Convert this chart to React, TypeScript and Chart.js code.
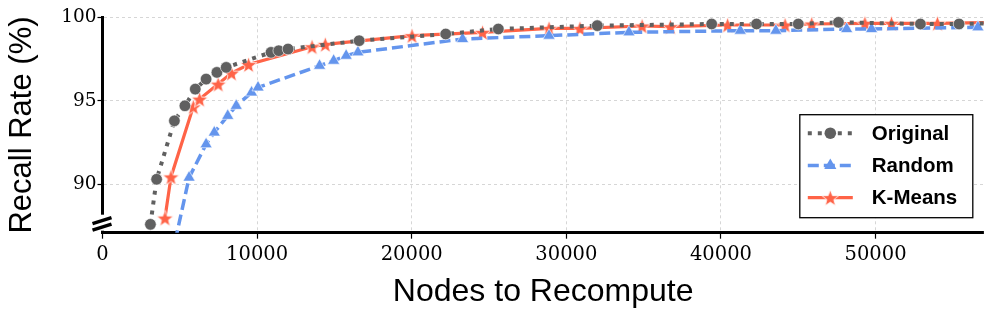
import React, { useEffect, useRef } from "react";
import { Chart, registerables } from "chart.js";

Chart.register(...registerables);

// ---- data ----
const seriesNames = ["Original", "Random", "K-Means"];

const originalX = [3100, 3500, 4650, 5330, 6000, 6700, 7400, 8000, 10900, 11400, 12000, 16600, 22200, 25600, 32000, 39400, 42300, 45000, 47600, 52900, 55400, 58000];
const originalY = [87.6, 90.3, 93.8, 94.7, 95.7, 96.3, 96.7, 97.0, 97.9, 98.0, 98.1, 98.6, 99.0, 99.3, 99.5, 99.6, 99.6, 99.6, 99.7, 99.6, 99.6, 99.65];

const randomX = [4700, 5600, 6700, 7230, 8100, 8650, 9640, 10060, 14040, 14950, 15760, 16520, 23290, 28880, 34050, 41250, 43550, 48130, 49740, 56620];
const randomY = [86.6, 90.4, 92.4, 93.1, 94.1, 94.7, 95.5, 95.8, 97.1, 97.4, 97.7, 97.9, 98.7, 98.9, 99.1, 99.2, 99.2, 99.3, 99.3, 99.4];

const kmeansX = [4040, 4430, 5870, 6280, 7480, 8340, 9450, 13550, 14410, 20020, 24580, 28880, 30880, 34900, 36730, 40430, 44150, 45870, 49310, 51030, 54000, 58000];
const kmeansY = [87.98, 90.44, 94.64, 95.1, 96.0, 96.66, 97.17, 98.24, 98.38, 98.9, 99.1, 99.34, 99.34, 99.48, 99.44, 99.54, 99.54, 99.6, 99.64, 99.64, 99.64, 99.7];

const xTicks = [0, 10000, 20000, 30000, 40000, 50000];
const yTicks = [90, 95, 100];
const xMin = 0;
const xMax = 57000;
const yMin = 87.1;
const yMax = 100;

const xTitle = "Nodes to Recompute";
const yTitle = "Recall Rate (%)";

// ---- styles ----
const GRAY = "#606060";
const BLUE = "#6495ED";
const RED = "#FF6347";

function makeStar(size: number, fill: string, stroke: string) {
  const c = document.createElement("canvas");
  c.width = size;
  c.height = size;
  const ctx = c.getContext("2d")!;
  const cx = size / 2;
  const cy = size / 2 + size * 0.05;
  const R = size / 2 - 0.8;
  const r = R * 0.42;
  ctx.beginPath();
  for (let i = 0; i < 10; i++) {
    const a = -Math.PI / 2 + (i * Math.PI) / 5;
    const rad = i % 2 === 0 ? R : r;
    ctx.lineTo(cx + rad * Math.cos(a), cy + rad * Math.sin(a));
  }
  ctx.closePath();
  ctx.fillStyle = fill;
  ctx.fill();
  ctx.strokeStyle = stroke;
  ctx.lineWidth = 0.8;
  ctx.stroke();
  return c;
}

function drawMarker(ctx: CanvasRenderingContext2D, ds: any, x: number, y: number) {
  const style = ds.pointStyle;
  if (style && typeof style !== "string") {
    ctx.drawImage(style, x - style.width / 2, y - style.height / 2);
    return;
  }
  const r = ds.pointRadius;
  ctx.beginPath();
  if (style === "triangle") {
    for (let i = 0; i < 3; i++) {
      const a = -Math.PI / 2 + (i * 2 * Math.PI) / 3;
      ctx.lineTo(x + r * Math.cos(a), y + r * Math.sin(a));
    }
    ctx.closePath();
  } else {
    ctx.arc(x, y, r, 0, Math.PI * 2);
  }
  ctx.fillStyle = ds.pointBackgroundColor;
  ctx.fill();
}

const legendPlugin = {
  id: "customLegend",
  afterDatasetsDraw(chart: any) {
    const { ctx, chartArea } = chart;
    const w = 173;
    const h = 103;
    const x0 = chartArea.right - 11 - w;
    const y0 = chartArea.bottom - 15 - h;
    ctx.save();
    ctx.fillStyle = "#ffffff";
    ctx.fillRect(x0, y0, w, h);
    ctx.strokeStyle = "#000000";
    ctx.lineWidth = 1.3;
    ctx.strokeRect(x0, y0, w, h);
    chart.data.datasets.forEach((ds: any, i: number) => {
      const yy = y0 + 18.5 + i * 32.2;
      ctx.save();
      ctx.strokeStyle = ds.borderColor;
      ctx.lineWidth = ds.borderWidth;
      ctx.setLineDash(ds.borderDash || []);
      ctx.beginPath();
      ctx.moveTo(x0 + 8, yy);
      ctx.lineTo(x0 + 53, yy);
      ctx.stroke();
      ctx.restore();
      drawMarker(ctx, ds, x0 + 30.5, yy);
      ctx.fillStyle = "#000000";
      ctx.font = "bold 20.5px 'Liberation Sans', Arial, sans-serif";
      ctx.textAlign = "left";
      ctx.textBaseline = "middle";
      ctx.fillText(ds.label, x0 + 72, yy + 1);
    });
    ctx.restore();
  },
};

const breakPlugin = {
  id: "axisBreak",
  afterDraw(chart: any) {
    const { ctx, chartArea } = chart;
    const left = chartArea.left;
    const bottom = chartArea.bottom;
    ctx.save();
    ctx.fillStyle = "#ffffff";
    ctx.fillRect(left - 3, bottom - 18, 6, 16);
    ctx.strokeStyle = "#000000";
    ctx.lineWidth = 3.5;
    ctx.lineCap = "butt";
    ctx.beginPath();
    ctx.moveTo(left - 10, bottom - 9);
    ctx.lineTo(left + 9, bottom - 15);
    ctx.moveTo(left - 10, bottom - 2.5);
    ctx.lineTo(left + 9, bottom - 8.5);
    ctx.stroke();
    ctx.restore();
  },
};

export default function App() {
  const ref = useRef<HTMLCanvasElement | null>(null);

  useEffect(() => {
    if (!ref.current) return;
    const star = makeStar(19, RED, "#ffffff");
    const toPts = (xs: number[], ys: number[]) => xs.map((x, i) => ({ x, y: ys[i] }));
    const clip = { left: 8, top: 8, right: 0, bottom: 0 };

    const chart = new Chart(ref.current, {
      type: "line",
      data: {
        datasets: [
          {
            label: seriesNames[0],
            data: toPts(originalX, originalY),
            borderColor: GRAY,
            backgroundColor: GRAY,
            borderWidth: 4,
            borderDash: [4, 6],
            pointStyle: "circle",
            pointRadius: 5.8,
            pointBackgroundColor: GRAY,
            pointBorderColor: "#ffffff",
            pointBorderWidth: 0.6,
            tension: 0,
            clip,
          } as any,
          {
            label: seriesNames[1],
            data: toPts(randomX, randomY),
            borderColor: BLUE,
            backgroundColor: BLUE,
            borderWidth: 3.5,
            borderDash: [11, 5],
            pointStyle: "triangle",
            pointRadius: 7,
            pointBackgroundColor: BLUE,
            pointBorderColor: "#ffffff",
            pointBorderWidth: 0.6,
            tension: 0,
            clip,
          } as any,
          {
            label: seriesNames[2],
            data: toPts(kmeansX, kmeansY),
            borderColor: RED,
            backgroundColor: RED,
            borderWidth: 3.2,
            borderDash: [],
            pointStyle: star,
            pointRadius: 9,
            pointBackgroundColor: RED,
            tension: 0,
            clip,
          } as any,
        ],
      },
      options: {
        responsive: false,
        animation: false,
        layout: { padding: { left: 0, top: 17.3, right: 10, bottom: 0 } },
        plugins: {
          legend: { display: false },
          tooltip: { enabled: false },
        },
        scales: {
          x: {
            type: "linear",
            min: xMin,
            max: xMax,
            afterBuildTicks: (s: any) => {
              s.ticks = xTicks.map((v) => ({ value: v }));
            },
            afterFit: (s: any) => {
              s.height = 89.3;
            },
            grid: {
              color: "#cccccc",
              lineWidth: 0.8,
              drawTicks: true,
              tickLength: 6,
              tickColor: "#000000",
              tickWidth: 1.2,
            },
            border: { display: true, color: "#000000", width: 3, dash: [3, 3] },
            ticks: {
              color: "#000000",
              padding: 5,
              maxRotation: 0,
              font: { family: "'DejaVu Serif', serif", size: 19.5 },
              callback: (v: any) => String(v),
            },
            title: {
              display: true,
              text: xTitle,
              color: "#000000",
              font: { family: "'Liberation Sans', Arial, sans-serif", size: 32 },
              padding: { top: 0, bottom: 10.5 },
            },
          },
          y: {
            type: "linear",
            min: yMin,
            max: yMax,
            afterBuildTicks: (s: any) => {
              s.ticks = yTicks.map((v) => ({ value: v }));
            },
            afterFit: (s: any) => {
              s.width = 102.5;
            },
            grid: {
              color: "#cccccc",
              lineWidth: 0.8,
              drawTicks: true,
              tickLength: 5,
              tickColor: "#000000",
              tickWidth: 1.2,
            },
            border: { display: true, color: "#000000", width: 3, dash: [3, 3] },
            ticks: {
              color: "#000000",
              padding: 1,
              font: { family: "'DejaVu Serif', serif", size: 18.5 },
              callback: (v: any) => String(v),
            },
            title: {
              display: true,
              text: yTitle,
              color: "#000000",
              font: { family: "'Liberation Sans', Arial, sans-serif", size: 31 },
              padding: { top: 3.9, bottom: 0 },
            },
          },
        },
      },
      plugins: [legendPlugin, breakPlugin],
    });
    return () => chart.destroy();
  }, []);

  return (
    <div style={{ position: "fixed", left: 0, top: 0, width: 996, height: 322, background: "#ffffff" }}>
      <canvas ref={ref} width={996} height={322} style={{ display: "block", width: 996, height: 322 }} />
    </div>
  );
}
